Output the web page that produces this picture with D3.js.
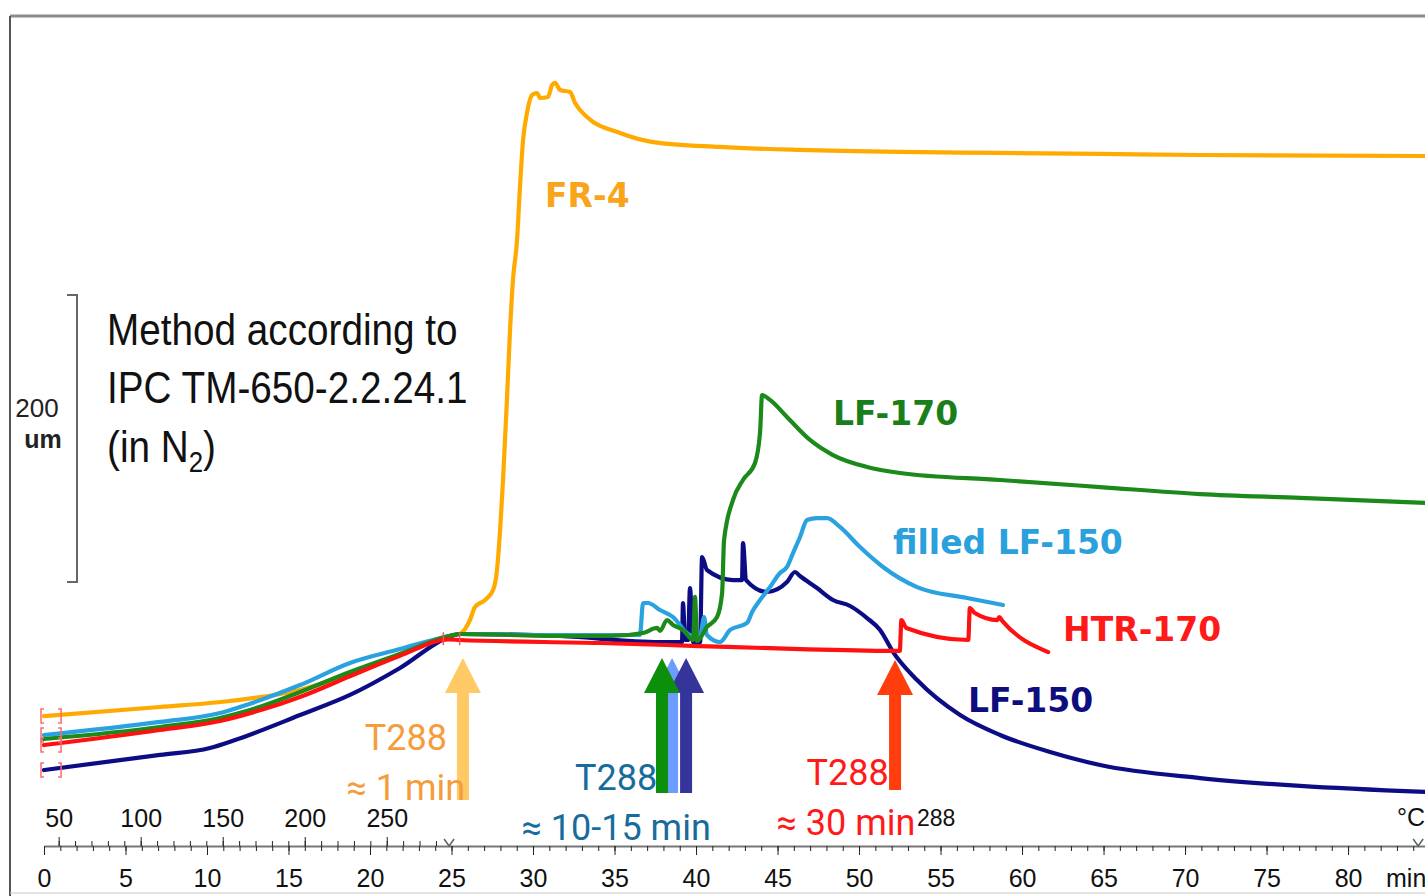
<!DOCTYPE html>
<html>
<head>
<meta charset="utf-8">
<style>
  body { margin: 0; background: #fff; }
  .curve { fill: none; stroke-width: 4.2; stroke-linejoin: round; stroke-linecap: round; }
  .note { font-family: Roboto, "Liberation Sans", sans-serif; font-size: 36px; }
  .name { font-family: "DejaVu Sans", Verdana, sans-serif; font-weight: bold; font-size: 33px; }
  .method { font-family: "Liberation Sans Narrow", "Arial Narrow", "Liberation Sans", sans-serif; font-size: 45px; fill: #111; }
  .axis text { font-family: "Liberation Sans", Arial, sans-serif; font-size: 25px; fill: #111; }
  .axis .domain { stroke: #777; stroke-width: 2; }
  .axis line { stroke: #222; }
</style>
</head>
<body>
<div class="chart"></div>
<script src="https://d3js.org/d3.v7.min.js"></script>
<script>

// time in min, dimension change in um (0 = level reached at 288 °C)
var fr4 = [[0,-54.4],[7.1,-48.1],[11.4,-43.9],[15.7,-36.2],[20.6,-16.7],[24.85,1.4],[25.5,2.8],[26.13,12.5],[26.44,21.6],
    [27.06,26.5],[27.55,33.4],[27.79,47.4],[27.98,75.3],[28.16,110.1],[28.4,165.9],[28.59,214.6],[28.77,249.5],[29.02,277.4],
    [29.2,314.3],[29.39,347],[29.63,365.9],[29.94,378.4],[30.25,379.8],[30.43,376.3],[30.92,377],[31.17,385.4],[31.35,386.8],
    [31.66,381.9],[32.27,380.5],[32.58,372.8],[33.31,363.1],[35.34,351.9],[37.36,345.6],[41.47,342.2],[46.38,340.1],
    [52.52,338.7],[58.65,338],[64.79,337.3],[70.92,336.6],[84.72,335.9]];

var lf170 = [[0,-70.4],[7.12,-62],[10.8,-55.7],[12.64,-50.2],[15.71,-37.6],[18.77,-23.7],[21.84,-11.1],[24.85,1.4],[25.52,2.8],
    [31.66,1.4],[34.72,1.4],[36.75,3.5],[37.61,7],[37.79,4.9],[38.22,12.5],[38.59,9.1],[39.2,5.6],[39.82,-1.4],[39.94,28.6],
    [40.06,-2.1],[40.67,7.7],[41.29,14.6],[41.6,31.4],[41.72,68.3],[42.27,96.2],[42.88,110.1],[43.62,122],[43.93,143.6],
    [44.05,169.3],[44.54,165.9],[45.58,154],[46.99,138],[48.4,127.5],[50.49,119.2],[52.52,115],[58.65,110.1],[64.79,105.2],
    [70.92,100.3],[77.06,97.6],[84.72,94.1]];

var filledLf150 = [[0,-67.6],[7.12,-58.5],[10.8,-52.3],[12.02,-48.1],[15.71,-32.8],[18.77,-17.4],[21.84,-7.7],[24.85,1.4],
    [25.52,2.8],[31.66,2.1],[36.56,2.1],[36.75,24.4],[37.06,24.4],[37.79,19.5],[38.59,14.6],[39.63,2.1],[40.25,1.4],
    [40.49,14.6],[40.67,2.1],[41.47,-2.8],[42.09,5.6],[43.13,10.5],[43.44,18.1],[43.93,26.5],[44.54,35.5],[45.15,45.3],
    [45.58,49.5],[45.95,59.2],[46.38,70.4],[46.81,82.2],[47.42,83.6],[48.04,83.6],[48.83,77.4],[50.06,63.4],[51.47,49.5],
    [53.56,35.5],[56.63,27.9],[58.83,23]];

var htr170 = [[0,-74.6],[7.1,-64.1],[10.8,-57.8],[13.3,-50.2],[15.7,-41.1],[18.8,-26.5],[21.8,-12.5],[24.85,-1],[25.5,-1.4],
    [34.1,-3.5],[40.2,-5.6],[46.4,-7.7],[52.5,-9],[52.6,12.5],[52.9,7],[56.7,-1.4],[56.8,20.9],[57.1,17.4],[58.5,12.5],
    [58.6,14.6],[58.8,11.8],[61.6,-9.8]];

var lf150 = [[0,-92],[7.12,-81.5],[10.18,-76.7],[11.72,-71.1],[15.71,-53.7],[18.77,-39.7],[21.84,-20.9],[24.85,0.7],
    [25.52,2.8],[31.66,1.4],[37.79,-2.8],[39.14,-2.8],[39.2,24.4],[39.33,-1.4],[39.51,-1.4],[39.63,34.8],[39.82,-2.8],
    [40.25,-2.8],[40.37,56.4],[40.67,47.4],[42.27,40.4],[42.82,40.4],[42.88,66.2],[43.07,40.4],[44.36,32.1],[45.58,39],
    [46.07,46],[46.38,43.2],[47.42,34.8],[48.4,26.5],[49.45,22.3],[50.49,13.9],[51.29,5.6],[52.09,-9.8],[53.56,-29.3],
    [56.2,-53.7],[58.65,-67.6],[61.72,-79.4],[64.79,-88.5],[70.92,-97.6],[77.06,-103.1],[84.72,-107.3]];

var seriesNames = ["FR-4", "LF-170", "filled LF-150", "HTR-170", "LF-150"];
// where each name is written: [min, um]
var namePos = [[30.74, 300.3], [48.4, 148.4], [52.09, 58.5], [62.52, -2.1], [56.69, -51.6]];

var timeTicks = d3.range(0, 81, 5);
var timeMinor = d3.range(0, 85, 1);
var tempLabels = [50, 100, 150, 200, 250];
var tempMinor = d3.range(50, 290, 10);

// T288 reached (min) for the arrows
var arrowTimes = [25.7, 38.53, 39.39, 37.91, 52.21];

var width = 1425, height = 896, axisY = 846;

var xScale = d3.scaleLinear().domain([0, 84.72]).range([44, 1425]);
var yScale = d3.scaleLinear().domain([0, 200]).range([638, 351]);
var tempScale = d3.scaleLinear().domain([50, 288]).range([xScale(0.9), xScale(24.85)]);

var svg = d3.select(".chart").append("svg")
    .attr("width", width)
    .attr("height", height);

// frame
svg.append("line").attr("x1", 10).attr("x2", width).attr("y1", 16).attr("y2", 16)
    .attr("stroke", "#8c8c8c").attr("stroke-width", 3);
svg.append("line").attr("x1", 10).attr("x2", 10).attr("y1", 16).attr("y2", height)
    .attr("stroke", "#555").attr("stroke-width", 2);
svg.append("line").attr("x1", 10).attr("x2", width).attr("y1", 893).attr("y2", 893)
    .attr("stroke", "#c8c8c8").attr("stroke-width", 1);

// scale bar 200 um
svg.append("path")
    .attr("d", "M67," + yScale(239) + "H77V" + yScale(39) + "H67")
    .attr("fill", "none").attr("stroke", "#666").attr("stroke-width", 2);
svg.append("text").attr("x", 37).attr("y", 417).attr("text-anchor", "middle")
    .style("font", "26px 'Liberation Sans', Arial, sans-serif").attr("fill", "#222").text("200");
svg.append("text").attr("x", 43).attr("y", 448).attr("text-anchor", "middle")
    .style("font", "bold 25px 'Liberation Sans', Arial, sans-serif").attr("fill", "#222").text("um");

// method note (condensed look)
var method = svg.append("g").attr("transform", "translate(107,0) scale(0.86,1)")
    .append("text").attr("class", "method");
method.append("tspan").attr("x", 0).attr("y", 345).text("Method according to");
method.append("tspan").attr("x", 0).attr("y", 403).text("IPC TM-650-2.2.24.1");
method.append("tspan").attr("x", 0).attr("y", 462).text("(in N");
method.append("tspan").attr("dy", 10).style("font-size", "30px").text("2");
method.append("tspan").attr("dy", -10).text(")");

// time axis (bottom)
svg.append("g")
    .attr("class", "axis")
    .attr("transform", "translate(0," + axisY + ")")
    .call(d3.axisBottom(xScale).tickValues(timeMinor).tickSize(5).tickSizeOuter(0).tickFormat(""));
svg.append("g")
    .attr("class", "axis")
    .attr("transform", "translate(0," + axisY + ")")
    .call(d3.axisBottom(xScale).tickValues(timeTicks).tickSize(9).tickPadding(14).tickSizeOuter(0))
    .call(g => g.select(".domain").remove());

// temperature axis (top side of same line)
svg.append("g")
    .attr("class", "axis")
    .attr("transform", "translate(0," + axisY + ")")
    .call(d3.axisTop(tempScale).tickValues(tempMinor).tickSize(5).tickSizeOuter(0).tickFormat(""))
    .call(g => g.select(".domain").remove());
svg.append("g")
    .attr("class", "axis")
    .attr("transform", "translate(0," + axisY + ")")
    .call(d3.axisTop(tempScale).tickValues(tempLabels).tickSize(9).tickPadding(10).tickSizeOuter(0))
    .call(g => g.select(".domain").remove());

// little v marks on the axis
[24.85, 84.3].forEach(function(t) {
    var cx = xScale(t);
    svg.append("path")
        .attr("d", "M" + (cx - 5) + "," + (axisY - 7) + "L" + cx + "," + axisY + "L" + (cx + 5) + "," + (axisY - 7))
        .attr("fill", "none").attr("stroke", "#556655").attr("stroke-width", 1.5);
});

svg.append("text").attr("x", 917).attr("y", 826)
    .style("font", "23px 'Liberation Sans', Arial, sans-serif").attr("fill", "#111").text("288");
svg.append("text").attr("x", 1397).attr("y", 826)
    .style("font", "25px 'Liberation Sans', Arial, sans-serif").attr("fill", "#111").text("°C");
svg.append("text").attr("x", 1386).attr("y", 887)
    .style("font", "25px 'Liberation Sans', Arial, sans-serif").attr("fill", "#111").text("min");

// curves
var line = d3.line()
    .x(function(d) { return xScale(d[0]); })
    .y(function(d) { return yScale(d[1]); })
    .curve(d3.curveMonotoneX);

var series = [
    {data: fr4, color: "#ffaa00"},
    {data: lf150, color: "#0c0c85"},
    {data: filledLf150, color: "#2aa2e0"},
    {data: lf170, color: "#1b8a1b"},
    {data: htr170, color: "#ff1111"}
];

series.forEach(function(s) {
    svg.append("path")
        .datum(s.data)
        .attr("class", "curve")
        .attr("stroke", s.color)
        .attr("d", line);
});

// red start brackets
var startVals = [fr4[0][1], filledLf150[0][1], htr170[0][1], lf150[0][1]];
startVals.forEach(function(v) {
    var y = yScale(v), x0 = xScale(0) - 3, x1 = xScale(1.05);
    svg.append("path")
        .attr("d", "M" + (x0 + 3) + "," + (y - 7) + "H" + x0 + "V" + (y + 7) + "H" + (x0 + 3) +
                   "M" + (x1 - 3) + "," + (y - 7) + "H" + x1 + "V" + (y + 7) + "H" + (x1 - 3))
        .attr("fill", "none").attr("stroke", "#ff6a6a").attr("stroke-width", 1.5);
});
[24.5, 25.5].forEach(function(t) {
    svg.append("line")
        .attr("x1", xScale(t)).attr("x2", xScale(t))
        .attr("y1", yScale(4)).attr("y2", yScale(-5))
        .attr("stroke", "#ff5050").attr("stroke-width", 1.5);
});

// series names
var nameColors = ["#f8a51b", "#1a7f1a", "#2aa0dc", "#ff1a1a", "#0d0d80"];
svg.selectAll(".name")
    .data(seriesNames)
    .enter().append("text")
    .attr("class", "name")
    .attr("x", function(d, i) { return xScale(namePos[i][0]); })
    .attr("y", function(d, i) { return yScale(namePos[i][1]); })
    .attr("fill", function(d, i) { return nameColors[i]; })
    .text(function(d) { return d; });

// arrows
var arrowColors = ["#ffc966", "#6d9cff", "#34349a", "#0c900c", "#ff3d0d"];
var arrowTips = [658, 658, 658, 658, 660];
var arrowEnds = [800, 793, 793, 793, 790];
function arrowPath(cx, tip, end) {
    var hw = 18, sw = 6, hh = 35;
    return "M" + cx + "," + tip + "L" + (cx + hw) + "," + (tip + hh) + "H" + (cx + sw) + "V" + end +
        "H" + (cx - sw) + "V" + (tip + hh) + "H" + (cx - hw) + "Z";
}
arrowTimes.forEach(function(t, i) {
    svg.append("path")
        .attr("d", arrowPath(xScale(t), arrowTips[i], arrowEnds[i]))
        .attr("fill", arrowColors[i]);
});

// T288 notes
var notes = [
    {t: 22.2, y: 750, text: "T288", color: "#f59d3d"},
    {t: 22.2, y: 800, text: "≈ 1 min", color: "#f59d3d"},
    {t: 35.1, y: 790, text: "T288", color: "#176c9c"},
    {t: 35.1, y: 840, text: "≈ 10-15 min", color: "#176c9c"},
    {t: 49.3, y: 785, text: "T288", color: "#ff1a1a"},
    {t: 49.2, y: 835, text: "≈ 30 min", color: "#ff1a1a"}
];
svg.selectAll(".note")
    .data(notes)
    .enter().append("text")
    .attr("class", "note")
    .attr("text-anchor", "middle")
    .attr("x", function(d) { return xScale(d.t); })
    .attr("y", function(d) { return d.y; })
    .attr("fill", function(d) { return d.color; })
    .text(function(d) { return d.text; });

</script>
</body>
</html>
